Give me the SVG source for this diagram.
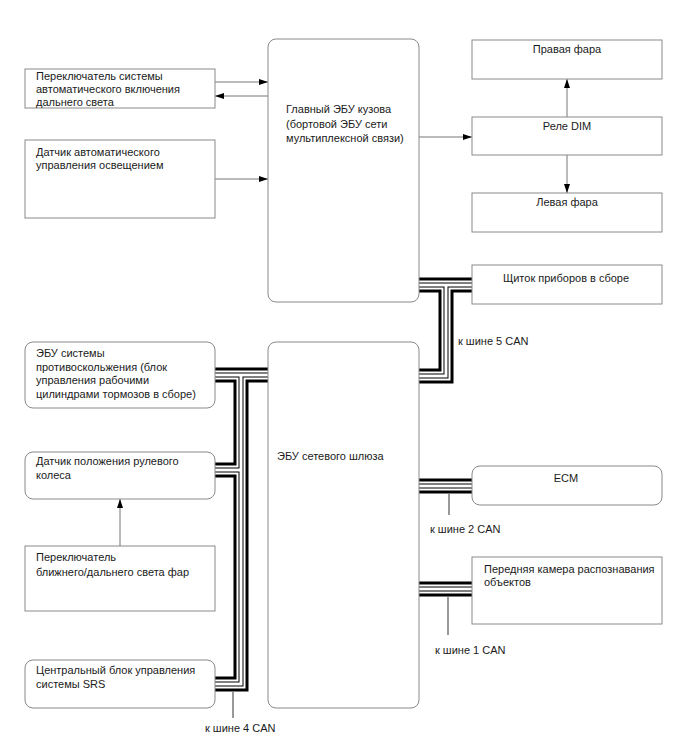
<svg xmlns="http://www.w3.org/2000/svg" xmlns:xlink="http://www.w3.org/1999/xlink" width="688" height="755" viewBox="0 0 688 755">
<style>
.box{fill:#fff;stroke:#8a8a8a;stroke-width:1}
.t{font-family:"Liberation Sans",Arial,sans-serif;font-size:11px;fill:#1a1a1a}
.c{text-anchor:middle}
.ar{fill:none;stroke:#777;stroke-width:1}
.drop{fill:none;stroke:#777;stroke-width:1.5}
.b1{fill:none;stroke:#000;stroke-width:15;stroke-linejoin:miter}
.b2{fill:none;stroke:#fff;stroke-width:9;stroke-linejoin:miter}
.b3{fill:none;stroke:#000;stroke-width:5;stroke-linejoin:miter}
.b4{fill:none;stroke:#fff;stroke-width:3;stroke-linejoin:miter}
</style>
<defs>
<marker id="ah" markerWidth="9" markerHeight="6" refX="9" refY="3" orient="auto" markerUnits="userSpaceOnUse">
<path d="M0,0 L9,3 L0,6 Z" fill="#000"/>
</marker>
<path id="busA" d="M215,375 H268 M241,375 V684 H215 M215,470 H241"/>
<path id="busB" d="M419,285 H472 M446,285 V376 H419"/>
<path id="busC" d="M419,486 H472"/>
<path id="busD" d="M419,589 H472"/>
</defs>
<rect width="688" height="755" fill="#fff"/>

<g id="connectors">
<path class="ar" d="M215,82 H268" marker-end="url(#ah)"/>
<path class="ar" d="M268,96 H215" marker-end="url(#ah)"/>
<path class="ar" d="M215,179 H268" marker-end="url(#ah)"/>
<path class="ar" d="M419,137 H472" marker-end="url(#ah)"/>
<path class="ar" d="M567,117 V79" marker-end="url(#ah)"/>
<path class="ar" d="M567,155 V193" marker-end="url(#ah)"/>
<path class="ar" d="M120,546 V499" marker-end="url(#ah)"/>
<g class="b1"><use xlink:href="#busA"/><use xlink:href="#busB"/><use xlink:href="#busC"/><use xlink:href="#busD"/></g>
<g class="b2"><use xlink:href="#busA"/><use xlink:href="#busB"/><use xlink:href="#busC"/><use xlink:href="#busD"/></g>
<g class="b3"><use xlink:href="#busA"/><use xlink:href="#busB"/><use xlink:href="#busC"/><use xlink:href="#busD"/></g>
<g class="b4"><use xlink:href="#busA"/><use xlink:href="#busB"/><use xlink:href="#busC"/><use xlink:href="#busD"/></g>
<path class="drop" d="M233,692 V718"/>
<path class="drop" d="M449,494 V515"/>
<path class="drop" d="M448,597 V635"/>
<text class="t" x="458" y="345">к шине 5 CAN</text>
<text class="t" x="430" y="533">к шине 2 CAN</text>
<text class="t" x="435" y="654">к шине 1 CAN</text>
<text class="t" x="205" y="732">к шине 4 CAN</text>
</g>

<g id="hb-switch">
<rect class="box" x="25" y="69" width="190" height="39"/>
<text class="t" x="36" y="80">Переключатель системы</text>
<text class="t" x="36" y="93">автоматического включения</text>
<text class="t" x="36" y="106">дальнего света</text>
</g>
<g id="light-sensor">
<rect class="box" x="25" y="140" width="190" height="78"/>
<text class="t" x="36" y="156">Датчик автоматического</text>
<text class="t" x="36" y="169">управления освещением</text>
</g>
<g id="main-body-ecu">
<rect class="box" x="268" y="39" width="151" height="263" rx="8"/>
<text class="t" x="286" y="113">Главный ЭБУ кузова</text>
<text class="t" x="286" y="127.5">(бортовой ЭБУ сети</text>
<text class="t" x="286" y="142">мультиплексной связи)</text>
</g>
<g id="right-headlight">
<rect class="box" x="472" y="40" width="190" height="39"/>
<text class="t c" x="567" y="53">Правая фара</text>
</g>
<g id="dim-relay">
<rect class="box" x="472" y="117" width="190" height="38"/>
<text class="t c" x="567" y="130">Реле DIM</text>
</g>
<g id="left-headlight">
<rect class="box" x="472" y="193" width="190" height="39"/>
<text class="t c" x="567" y="206">Левая фара</text>
</g>
<g id="combination-meter">
<rect class="box" x="472" y="265" width="190" height="39"/>
<text class="t c" x="566" y="282">Щиток приборов в сборе</text>
</g>
<g id="skid-ecu">
<rect class="box" x="25" y="342" width="190" height="66" rx="8"/>
<text class="t" x="36" y="357">ЭБУ системы</text>
<text class="t" x="36" y="370.5">противоскольжения (блок</text>
<text class="t" x="36" y="384">управления рабочими</text>
<text class="t" x="36" y="397.5">цилиндрами тормозов в сборе)</text>
</g>
<g id="steering-sensor">
<rect class="box" x="25" y="452" width="190" height="47" rx="8"/>
<text class="t" x="36" y="465">Датчик положения рулевого</text>
<text class="t" x="36" y="479">колеса</text>
</g>
<g id="dimmer-switch">
<rect class="box" x="25" y="546" width="190" height="65"/>
<text class="t" x="36" y="561">Переключатель</text>
<text class="t" x="36" y="576">ближнего/дальнего света фар</text>
</g>
<g id="srs-unit">
<rect class="box" x="25" y="660" width="190" height="48" rx="8"/>
<text class="t" x="36" y="674">Центральный блок управления</text>
<text class="t" x="36" y="688">системы SRS</text>
</g>
<g id="gateway-ecu">
<rect class="box" x="268" y="342" width="151" height="366" rx="8"/>
<text class="t" x="277" y="460">ЭБУ сетевого шлюза</text>
</g>
<g id="ecm">
<rect class="box" x="472" y="466" width="190" height="39" rx="8"/>
<text class="t c" x="566" y="482">ECM</text>
</g>
<g id="front-camera">
<rect class="box" x="472" y="557" width="190" height="67"/>
<text class="t" x="484" y="573">Передняя камера распознавания</text>
<text class="t" x="484" y="586">объектов</text>
</g>
</svg>
